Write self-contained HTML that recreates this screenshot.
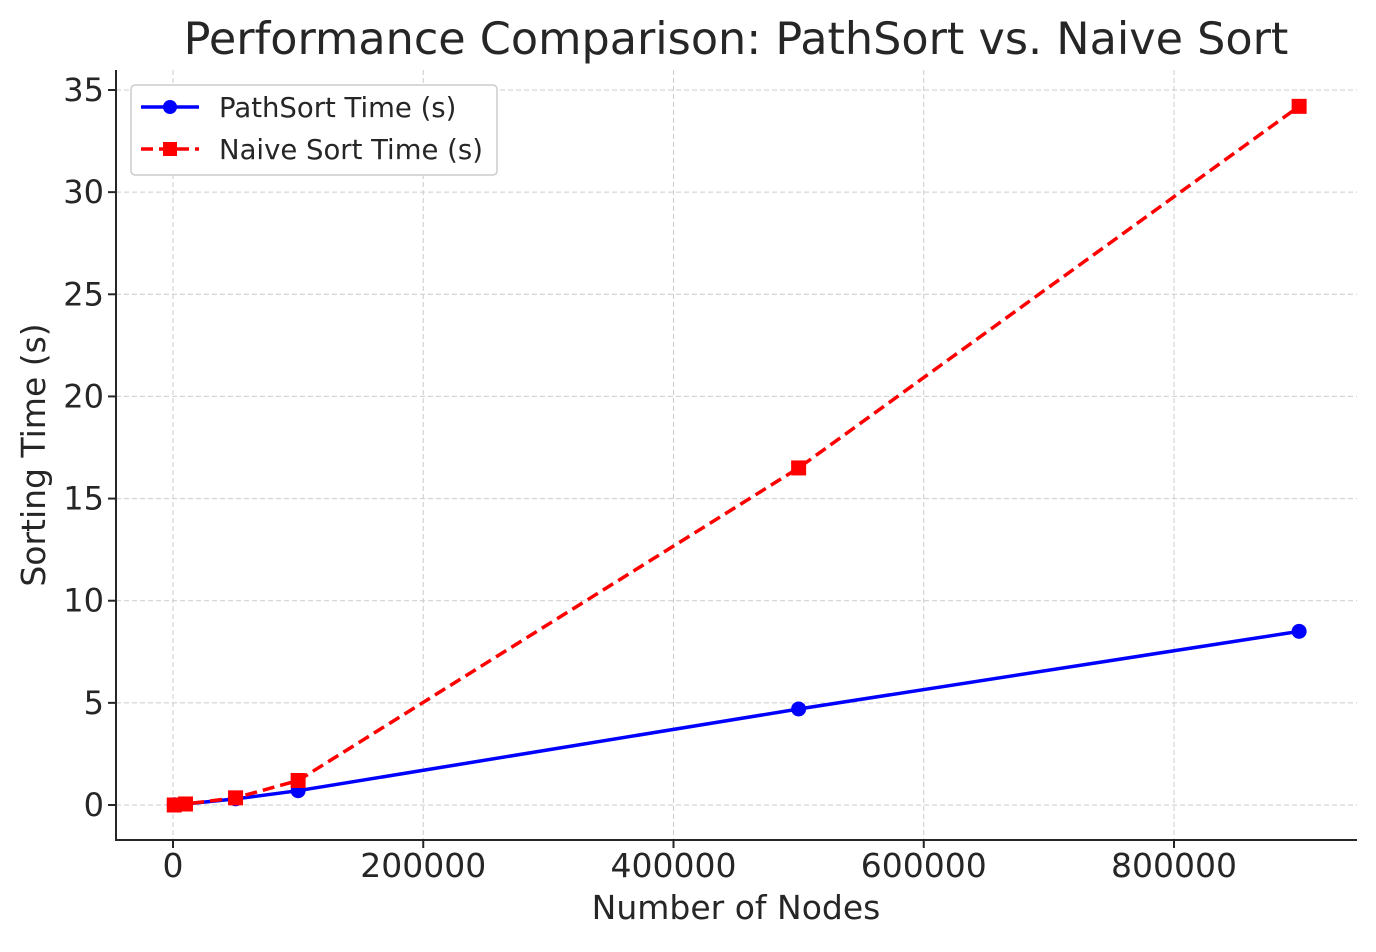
<!DOCTYPE html>
<html><head><meta charset="utf-8"><style>
body{margin:0;background:#fff;}
svg text{font-family:"DejaVu Sans","Liberation Sans",sans-serif;fill:#262626;}
</style></head><body>
<svg id="chart" width="1376" height="947" xmlns="http://www.w3.org/2000/svg">
<text x="736" y="54" font-size="44.5" text-anchor="middle" fill="#333">Performance Comparison: PathSort vs. Naive Sort</text>
<g id="grid"></g><g id="axes"></g><g id="series"></g>
<text x="736" y="919" font-size="33" text-anchor="middle">Number of Nodes</text>
<text transform="translate(45,455) rotate(-90)" font-size="33" text-anchor="middle">Sorting Time (s)</text>
<g>
<rect x="131" y="85" width="366" height="90" rx="4" fill="#fff" stroke="#ccc" stroke-width="1.5"/>
<g>
<line x1="141" y1="107" x2="199" y2="107" stroke="#0000ff" stroke-width="3.5"/><circle cx="170" cy="107" r="7" fill="#0000ff"/>
<text x="219" y="117" font-size="27.5">PathSort Time (s)</text></g>
<g>
<line x1="141" y1="149" x2="199" y2="149" stroke="#ff0000" stroke-width="3.5" stroke-dasharray="12,6"/><rect x="163" y="142" width="14" height="14" fill="#ff0000"/>
<text x="219" y="159" font-size="27.5">Naive Sort Time (s)</text></g>
</g>
</svg>
<script>
const nodes=[1000,10000,50000,100000,500000,900000];
const pathSort=[0.01,0.05,0.3,0.7,4.7,8.5];
const naiveSort=[0.0,0.05,0.35,1.2,16.5,34.2];
const xTicks=[0,200000,400000,600000,800000];
const yTicks=[0,5,10,15,20,25,30,35];
const NS="http://www.w3.org/2000/svg";
const L=116,R=1357,T=70,B=840;
const xs=v=>173+v*(1174-173)/800000;
const ys=v=>805-v*(805-90)/35;
function mk(tag,at,parent){const e=document.createElementNS(NS,tag);for(const k in at)e.setAttribute(k,at[k]);document.getElementById(parent).appendChild(e);return e;}
xTicks.forEach(t=>{
 const g=mk('line',{x1:xs(t),x2:xs(t),y1:T,y2:B,stroke:'#ccc','stroke-dasharray':'5,3'},'grid');
 
 
 const tk=mk('line',{x1:xs(t),x2:xs(t),y1:B,y2:B+8,stroke:'#262626','stroke-width':2},'axes');
 
 
 const tx=mk('text',{x:xs(t),y:877,'font-size':33,'text-anchor':'middle'},'axes');tx.textContent=t;
 
 
});
yTicks.forEach(t=>{
 const g=mk('line',{x1:L,x2:R,y1:ys(t),y2:ys(t),stroke:'#ccc','stroke-dasharray':'5,3'},'grid');
 
 
 const tk=mk('line',{x1:L-8,x2:L,y1:ys(t),y2:ys(t),stroke:'#262626','stroke-width':2},'axes');
 
 
 const tx=mk('text',{x:L-12,y:ys(t)+11,'font-size':32,'text-anchor':'end'},'axes');tx.textContent=t;
 
 
});
const sp=mk('path',{d:`M${L},${T}V${B}H${R}`,fill:'none',stroke:'#262626','stroke-width':2},'axes');


const pts=a=>a.map((v,i)=>xs(nodes[i])+','+ys(v)).join(' ');
const l1=mk('polyline',{points:pts(pathSort),fill:'none',stroke:'#0000ff','stroke-width':3.5},'series');


pathSort.forEach((v,i)=>{const c=mk('circle',{cx:xs(nodes[i]),cy:ys(v),r:7.5,fill:'#0000ff'},'series');
 
 });
const l2=mk('polyline',{points:pts(naiveSort),fill:'none',stroke:'#ff0000','stroke-width':3.5,'stroke-dasharray':'12,6'},'series');


naiveSort.forEach((v,i)=>{const r=mk('rect',{x:xs(nodes[i])-7.5,y:ys(v)-7.5,width:15,height:15,fill:'#ff0000'},'series');
 
 });
</script>
</body></html>
